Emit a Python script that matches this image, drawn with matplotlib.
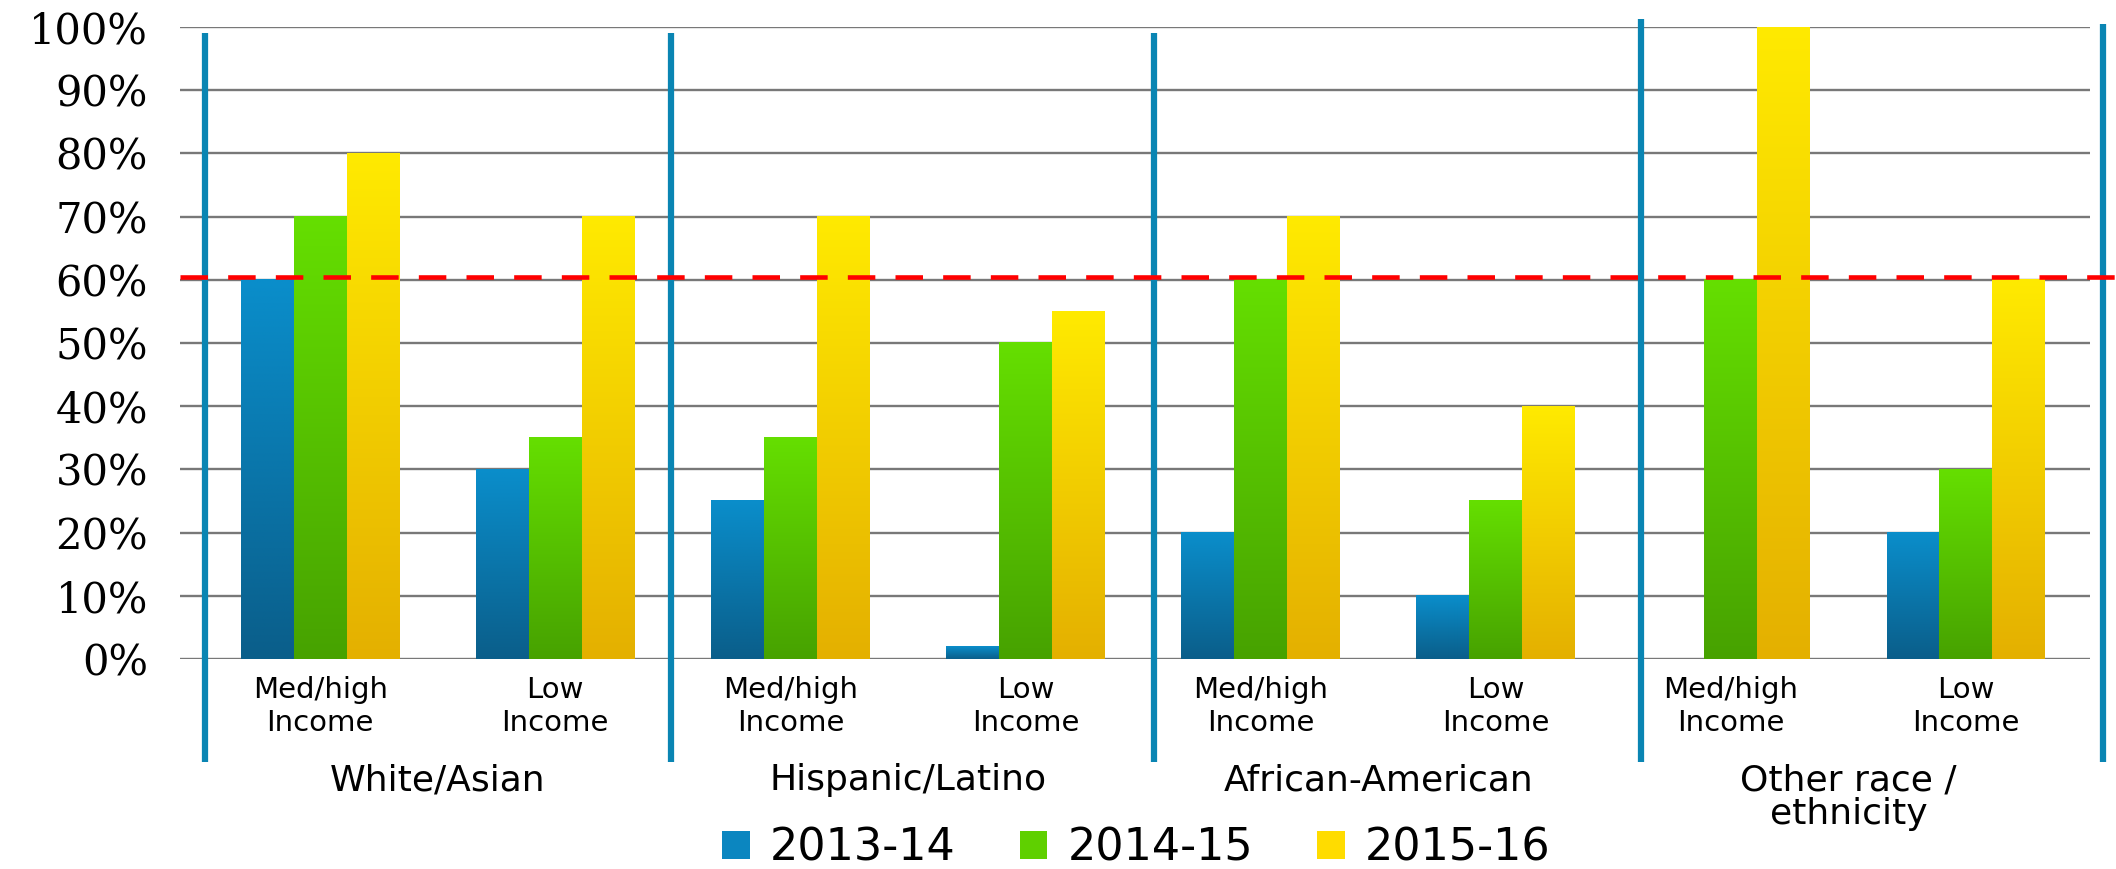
import numpy as np
import matplotlib
matplotlib.use('Agg')
import matplotlib.pyplot as plt
from matplotlib.colors import LinearSegmentedColormap
from matplotlib.patches import Patch

# categories
subgroups = ['Med/high\nIncome', 'Low\nIncome'] * 4
groups = ['White/Asian', 'Hispanic/Latino', 'African-American', 'Other race /\nethnicity']
years = ['2013-14', '2014-15', '2015-16']

# percent meeting the benchmark, one value per subgroup
y2013 = [60, 30, 25, 2, 20, 10, 0, 20]
y2014 = [70, 35, 35, 50, 60, 25, 60, 30]
y2015 = [80, 70, 70, 55, 70, 40, 100, 60]
target = 60.5

series = [y2013, y2014, y2015]
# (bottom, top) colours for the bar gradients
grads = [('#0a5e8a', '#0a8ecb'), ('#47a200', '#65df00'), ('#e4b000', '#ffea00')]
solid = ['#0b86c0', '#5fd000', '#ffdc00']

fig = plt.figure(figsize=(21.16, 8.69), dpi=100)
ax = fig.add_axes([0.085, 0.2417, 0.9025, 0.7273])

x = np.arange(len(subgroups))
w = 0.225
xlim = (-0.597, 7.526)
grad = np.linspace(0, 1, 256).reshape(-1, 1)

for k, vals in enumerate(series):
    bars = ax.bar(x + (k - 1) * w, vals, w, color='none', zorder=2)
    cm = LinearSegmentedColormap.from_list('g%d' % k, grads[k])
    for p in bars:
        h = p.get_height()
        if h <= 0:
            continue
        x0 = p.get_x()
        ax.imshow(grad, extent=(x0, x0 + p.get_width(), 0, h), origin='lower',
                  cmap=cm, aspect='auto', zorder=2, interpolation='bilinear')

ax.set_xlim(*xlim)
ax.set_ylim(0, 100)

# grid
ax.set_yticks(np.arange(0, 101, 10))
ax.set_yticklabels(['%d%%' % v for v in range(0, 101, 10)], family='DejaVu Serif', fontsize=30)
ax.yaxis.grid(True, color='#787878', linewidth=1.7, zorder=0)
ax.set_axisbelow(True)
ax.tick_params(axis='y', length=0, pad=23)
for s in ax.spines.values():
    s.set_visible(False)

ax.set_xticks(x)
ax.set_xticklabels(subgroups, family='DejaVu Sans', fontsize=21, linespacing=1.25)
ax.tick_params(axis='x', length=0, pad=12)

# group separators
seps = [-0.488, 1.493, 3.548, 5.62, 7.583]
tops = [99, 99, 99, 101.3, 100.5]
for sx, top in zip(seps, tops):
    ax.plot([sx, sx], [-16.3, top], color='#0a85b3', linewidth=4.5,
            clip_on=False, zorder=4, solid_capstyle='butt')

for i, g in enumerate(groups):
    ax.text(2 * i + 0.5, -16.5, g, ha='center', va='top', fontsize=26,
            family='DejaVu Sans', linespacing=1.0)

# benchmark line
ax.plot([xlim[0], 7.66], [target, target], color='#ff0000', linewidth=3.3,
        linestyle=(0, (6, 4.4)), clip_on=False, zorder=5)

handles = [Patch(facecolor=c, edgecolor='none') for c in solid]
fig.legend(handles, years, loc='center', bbox_to_anchor=(0.537, 0.024), ncol=3,
           frameon=False, fontsize=32, handlelength=0.62, handleheight=0.62,
           handletextpad=0.45, columnspacing=1.45, borderpad=0)

fig.savefig('out.png', dpi=100)
